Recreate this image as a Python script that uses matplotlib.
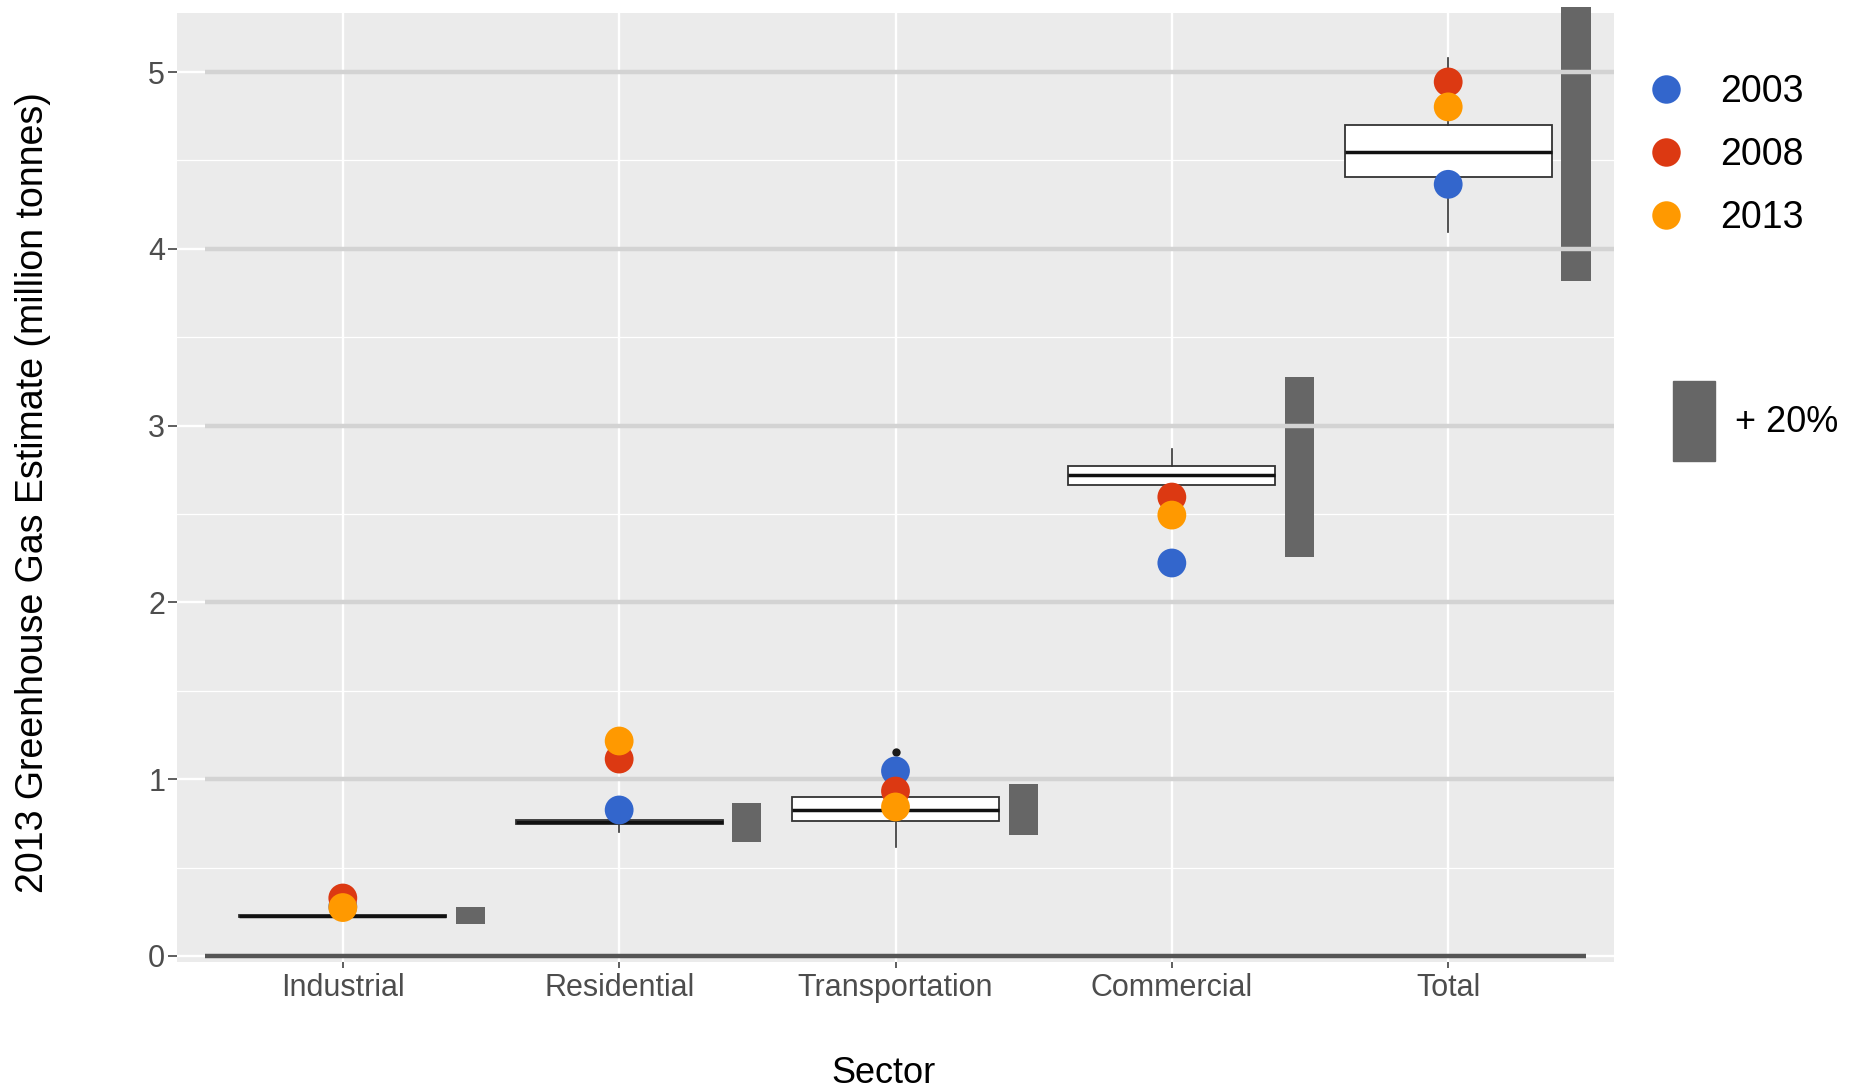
import numpy as np
import matplotlib.pyplot as plt
from matplotlib.lines import Line2D
from matplotlib.patches import Rectangle

plt.rcParams['font.family'] = ['Liberation Sans', 'DejaVu Sans']

sectors = ["Industrial", "Residential", "Transportation", "Commercial", "Total"]
years = ["2003", "2008", "2013"]
year_colors = ["#3366CC", "#DC3912", "#FF9900"]

# inventory estimates by year (million tonnes)
est_2003 = [0.28, 0.826, 1.047, 2.223, 4.365]
est_2008 = [0.328, 1.114, 0.933, 2.596, 4.944]
est_2013 = [0.274, 1.216, 0.843, 2.494, 4.803]

# 2013 model estimate spread
box_lo = [0.227, 0.70, 0.617, 2.60, 4.098]
box_q1 = [0.222, 0.746, 0.764, 2.664, 4.408]
box_med = [0.227, 0.757, 0.826, 2.721, 4.545]
box_q3 = [0.232, 0.769, 0.899, 2.771, 4.703]
box_hi = [0.232, 0.80, 1.05, 2.868, 5.081]
box_out = [[], [], [1.154], [], []]

# +20% band
band_lo = [0.180, 0.645, 0.684, 2.257, 3.816]
band_hi = [0.275, 0.865, 0.973, 3.275, 5.367]

x = np.arange(len(sectors))

fig = plt.figure(figsize=(18.6, 10.91), dpi=100)
ax = fig.add_axes([177/1860, 1 - 962/1091, 1437/1860, 949/1091])
ax.set_facecolor("#EBEBEB")
for s in ax.spines.values():
    s.set_visible(False)

# +20% bars beside each box
ax.bar(x + 0.4625, np.array(band_hi) - np.array(band_lo), bottom=band_lo,
       width=0.105, color="#666666", zorder=1, clip_on=False)

# reference lines
ax.hlines(range(1, 6), -0.5, 4.6, color="#D3D3D3", lw=3.2, zorder=1.5)
ax.hlines(0, -0.5, 4.5, color="#555555", lw=3.2, zorder=1.5)

stats = []
for i in range(len(sectors)):
    stats.append(dict(med=box_med[i], q1=box_q1[i], q3=box_q3[i],
                      whislo=box_lo[i], whishi=box_hi[i], fliers=box_out[i]))
ax.bxp(stats, positions=x, widths=0.75, showcaps=False, patch_artist=True,
       manage_ticks=False,
       boxprops=dict(facecolor="white", edgecolor="#333333", lw=1.3),
       medianprops=dict(color="#111111", lw=2.5),
       whiskerprops=dict(color="#333333", lw=1.2),
       flierprops=dict(marker="o", markerfacecolor="#1A1A1A",
                       markeredgecolor="none", markersize=6),
       zorder=2)

for vals, c, lab in zip([est_2003, est_2008, est_2013], year_colors, years):
    ax.scatter(x, vals, s=430, color=c, edgecolor="none", zorder=4, label=lab)

ax.set_xlim(-0.6, 4.6)
ax.set_ylim(-0.034, 5.334)
ax.set_xticks(x)
ax.set_xticklabels(sectors)
ax.set_yticks(range(6))
ax.set_yticks(np.arange(0.5, 5, 1.0), minor=True)
ax.set_axisbelow(True)
ax.grid(which="major", axis="both", color="white", lw=1.7)
ax.grid(which="minor", axis="y", color="white", lw=0.9)
ax.tick_params(axis="y", which="minor", length=0)
ax.tick_params(axis="y", which="major", length=6.5, width=1.1, color="#333333",
               labelsize=22, labelcolor="#4D4D4D", pad=2)
ax.tick_params(axis="x", length=4.3, width=1.1, color="#333333",
               labelsize=22, labelcolor="#4D4D4D", pad=3.5)

ax.set_ylabel("2013 Greenhouse Gas Estimate (million tonnes)", fontsize=27,
              color="black", va="center")
ax.yaxis.set_label_coords(-0.1002, 0.4947)
ax.set_xlabel("Sector", fontsize=26, color="black", va="baseline")
ax.xaxis.set_label_coords(0.492, -0.1275)

handles = [Line2D([], [], ls="", marker="o", markersize=20.5, color=c,
                  markeredgecolor="none") for c in year_colors]
fig.legend(handles, years, loc="upper left",
           bbox_to_anchor=(1647/1860, 1 - 74/1091), frameon=False,
           fontsize=27, borderpad=0, borderaxespad=0, handlelength=1.0,
           handletextpad=0.95, labelspacing=0.72)

# key for the +20% bars
fig.add_artist(Rectangle((1673/1860, 1 - 461/1091), 42/1860, 80/1091,
                         transform=fig.transFigure, color="#666666"))
fig.text(1735/1860, 1 - 423/1091, "+ 20%", fontsize=26, color="black",
         ha="left", va="center")

plt.savefig("out.png", dpi=100)
